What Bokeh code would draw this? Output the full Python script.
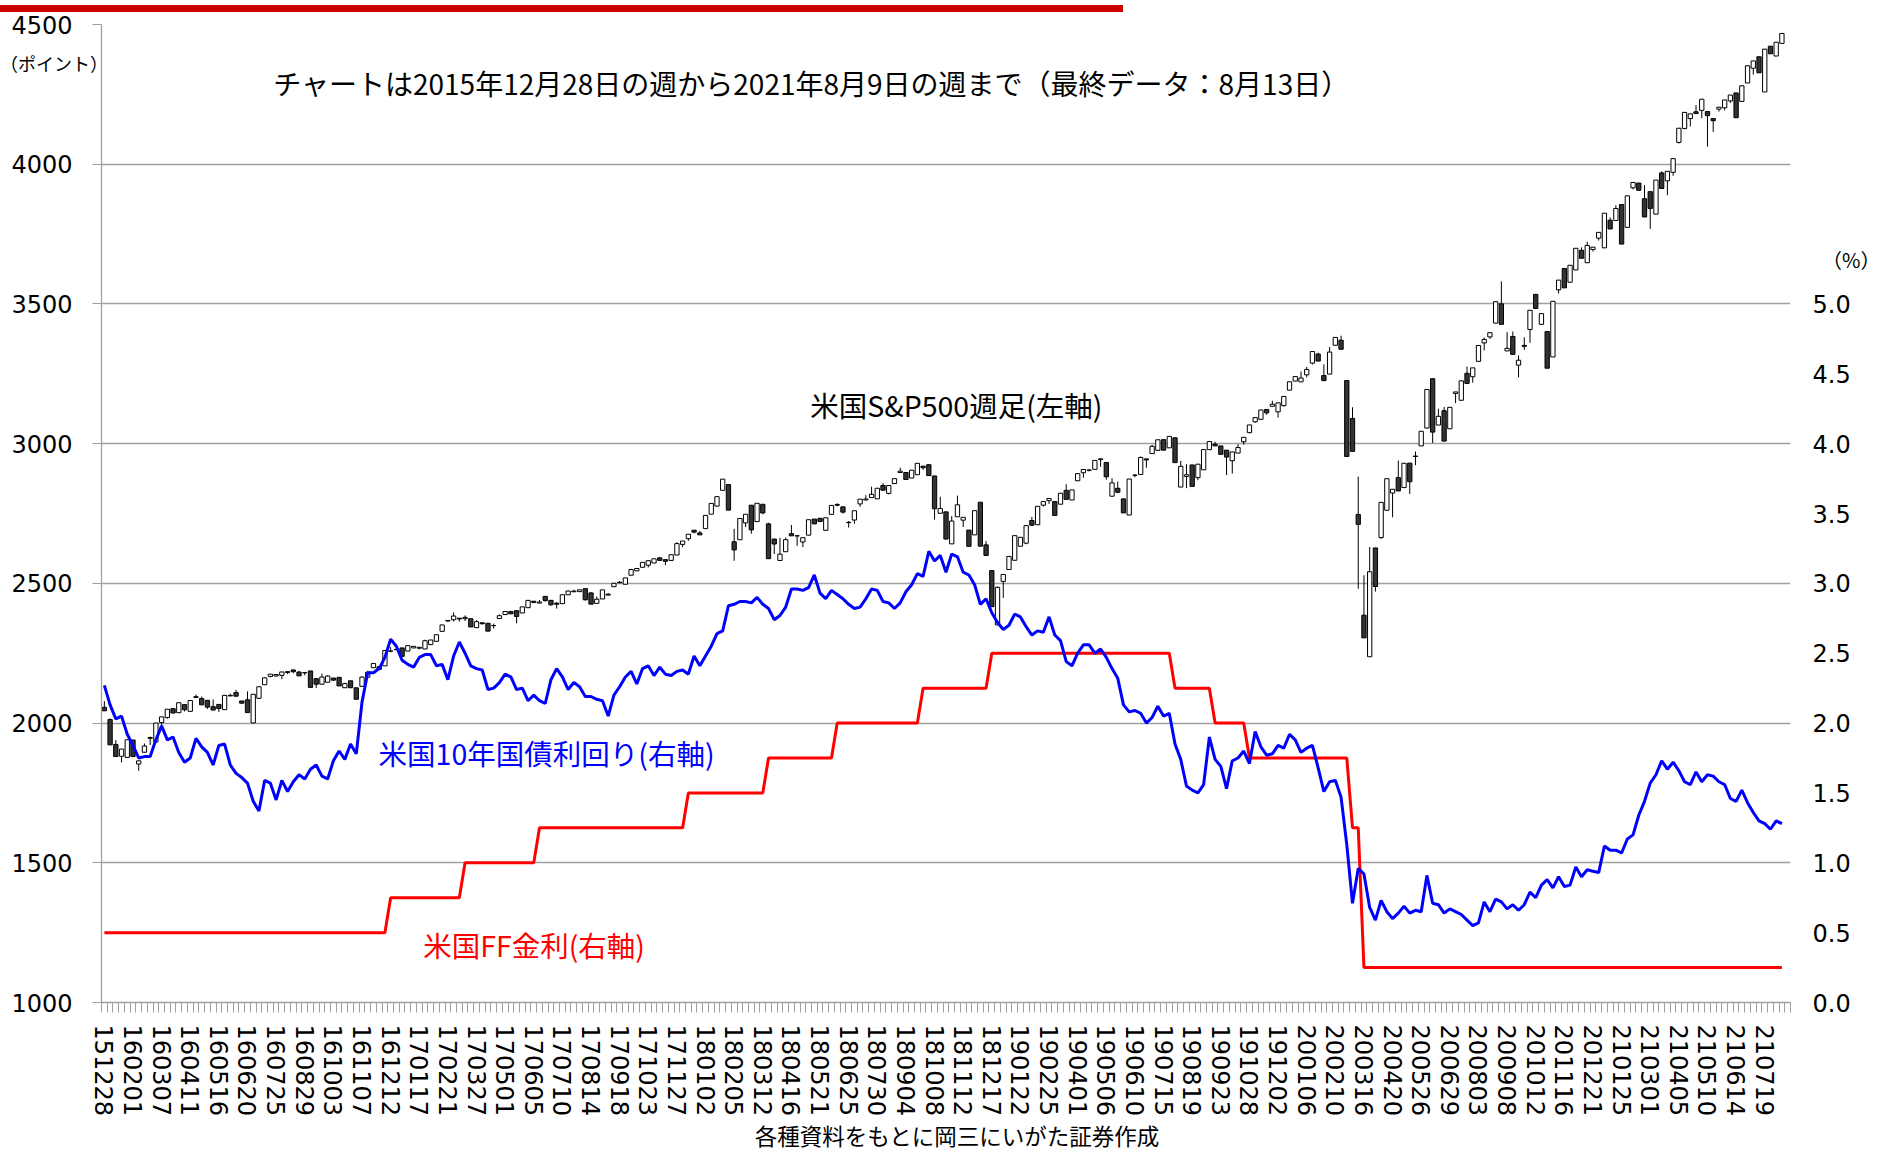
from bokeh.plotting import figure
from bokeh.models import (Range1d, LinearAxis, FixedTicker, NumeralTickFormatter,
                          Label, ColumnDataSource, Div)
from bokeh.layouts import column
from bokeh.embed import file_html
from bokeh.resources import INLINE

# ---------------- data ----------------
week_tick_labels = [
    "151228", "160201", "160307", "160411", "160516", "160620", "160725", "160829", "161003", "161107",
    "161212", "170117", "170221", "170327", "170501", "170605", "170710", "170814", "170918", "171023",
    "171127", "180102", "180205", "180312", "180416", "180521", "180625", "180730", "180904", "181008",
    "181112", "181217", "190122", "190225", "190401", "190506", "190610", "190715", "190819", "190923",
    "191028", "191202", "200106", "200210", "200316", "200420", "200526", "200629", "200803", "200908",
    "201012", "201116", "201221", "210125", "210301", "210405", "210510", "210614", "210719"]
tick_every = 5

# S&P500 weekly candles (O, H, L, C)
sp_open = [
    2056.5,
    # 2016
    2012.7, 1923.7, 1881.3, 1877.1, 1939.4, 1853.4, 1895.6, 1945.5, 1932.2, 2001.8, 2019.6, 2051.6, 2037.1,
    2066.1, 2042.0, 2094.3, 2087.8, 2081.4, 2058.7, 2066.7, 2048.0, 2097.0, 2109.4, 2079.1, 2083.3, 2000.5,
    2088.6, 2137.2, 2166.9, 2168.5, 2170.8, 2180.9, 2190.2, 2182.6, 2180.4, 2186.5, 2159.0, 2139.1, 2146.1,
    2161.2, 2163.7, 2126.5, 2151.3, 2126.2, 2131.5, 2164.2, 2198.2, 2201.7, 2204.7, 2257.0, 2262.5, 2268.9,
    # 2017
    2257.8, 2268.9, 2267.9, 2265.2, 2280.9, 2292.6, 2328.3, 2365.4, 2369.8, 2375.3, 2373.5, 2373.5, 2341.6,
    2358.8, 2357.2, 2349.0, 2374.2, 2388.3, 2399.4, 2402.3, 2394.0, 2412.9, 2436.1, 2429.4, 2453.5, 2439.1,
    2429.0, 2427.4, 2459.1, 2469.9, 2470.3, 2480.9, 2465.8, 2428.4, 2444.2, 2457.9, 2488.1, 2503.9, 2496.7,
    2529.1, 2544.7, 2557.6, 2565.0, 2572.8, 2591.1, 2584.8, 2582.1, 2601.4, 2639.4, 2660.0, 2690.2, 2680.5,
    # 2018
    2695.8, 2747.7, 2776.4, 2833.0, 2853.5, 2648.9, 2656.0, 2716.3, 2779.6, 2720.9, 2783.0, 2712.9, 2658.6,
    2581.9, 2613.2, 2677.8, 2670.3, 2648.1, 2672.6, 2730.1, 2733.0, 2689.9, 2746.9, 2782.0, 2773.8, 2717.1,
    2726.7, 2784.2, 2798.4, 2807.0, 2802.6, 2850.4, 2821.9, 2857.1, 2896.7, 2896.7, 2877.1, 2888.8, 2919.4,
    2924.6, 2884.4, 2750.8, 2755.9, 2641.3, 2738.3, 2726.2, 2690.7, 2673.5, 2790.4, 2637.7, 2545.9, 2351.1,
    2506.9,
    # 2019
    2549.7, 2582.6, 2632.9, 2643.9, 2724.9, 2709.8, 2779.8, 2796.1, 2792.8, 2783.3, 2832.9, 2798.4, 2867.2,
    2895.8, 2905.6, 2908.0, 2943.0, 2932.5, 2811.9, 2840.2, 2802.4, 2744.5, 2886.7, 2889.7, 2945.4, 2964.3,
    2976.0, 3014.3, 2985.0, 3021.0, 2844.7, 2882.7, 2923.7, 2878.4, 2906.3, 2978.4, 2998.0, 2991.8, 2976.7,
    2938.8, 2966.2, 3006.7, 3039.4, 3078.3, 3087.0, 3122.0, 3133.6, 3113.9, 3136.0, 3191.5, 3224.0, 3221.3,
    # 2020
    3246.3, 3288.1, 3320.8, 3243.6, 3248.9, 3352.1, 3370.3, 3225.9, 3090.2, 2746.6, 2386.1, 2237.4, 2626.7,
    2663.7, 2761.6, 2823.2, 2878.5, 2842.7, 2930.3, 2953.9, 2991.8, 3055.7, 3232.4, 3066.6, 3117.9, 3053.2,
    3179.7, 3155.2, 3251.8, 3239.4, 3294.6, 3360.5, 3382.0, 3431.3, 3500.3, 3331.8, 3383.5, 3281.1, 3351.6,
    3408.6, 3534.2, 3426.9, 3401.0, 3310.2, 3550.5, 3626.9, 3577.6, 3621.6, 3692.0, 3647.5, 3694.9, 3735.4,
    # 2021
    3700.7, 3799.6, 3798.9, 3855.4, 3773.9, 3915.6, 3932.6, 3876.5, 3901.8, 3821.4, 3968.9, 3940.6, 3971.1,
    4077.9, 4128.0, 4163.3, 4187.6, 4192.7, 4188.4, 4163.3, 4197.1, 4202.0, 4226.5, 4255.2, 4224.8, 4290.6,
    4343.5, 4384.6, 4258.5, 4422.3, 4387.2, 4432.4]
sp_high = [
    2078.4,
    2016.7, 1938.7, 1906.9, 1940.2, 1939.4, 1864.8, 1926.8, 1951.7, 2000.0, 2022.2, 2049.6, 2051.6, 2072.8,
    2066.7, 2082.8, 2102.4, 2095.2, 2081.4, 2084.4, 2066.7, 2099.1, 2105.3, 2119.1, 2079.1, 2113.3, 2103.0,
    2129.9, 2163.8, 2175.0, 2173.6, 2182.9, 2185.8, 2190.2, 2186.9, 2180.4, 2186.5, 2159.0, 2177.2, 2171.4,
    2161.2, 2163.7, 2144.3, 2151.3, 2126.2, 2167.5, 2187.1, 2213.4, 2204.7, 2259.5, 2271.7, 2270.8, 2268.9,
    2277.0, 2275.3, 2271.9, 2298.4, 2297.4, 2316.1, 2351.2, 2367.3, 2396.0, 2375.3, 2385.3, 2373.5, 2368.1,
    2360.2, 2357.2, 2355.8, 2388.8, 2399.3, 2399.6, 2402.3, 2415.8, 2439.1, 2436.1, 2440.4, 2453.5, 2440.7,
    2432.5, 2459.3, 2473.8, 2477.8, 2477.6, 2480.9, 2468.1, 2452.5, 2476.6, 2465.5, 2500.2, 2508.2, 2519.4,
    2552.1, 2555.2, 2575.2, 2581.1, 2587.8, 2594.4, 2585.6, 2602.4, 2647.6, 2651.5, 2675.8, 2690.2, 2687.5,
    2743.2, 2786.2, 2810.3, 2872.9, 2853.5, 2695.1, 2732.2, 2747.3, 2779.6, 2786.6, 2783.0, 2716.9, 2658.6,
    2662.8, 2664.0, 2708.6, 2670.3, 2663.4, 2727.7, 2730.1, 2733.3, 2734.6, 2779.0, 2786.9, 2773.8, 2723.1,
    2759.8, 2801.3, 2815.6, 2846.1, 2840.4, 2858.5, 2850.1, 2874.7, 2914.0, 2896.7, 2905.0, 2930.8, 2919.4,
    2925.5, 2884.4, 2809.9, 2755.9, 2740.4, 2813.9, 2736.3, 2690.7, 2760.2, 2790.4, 2651.1, 2546.2, 2488.8,
    2531.9,
    2596.6, 2670.7, 2664.8, 2706.5, 2737.7, 2775.6, 2792.7, 2803.7, 2792.8, 2822.5, 2854.9, 2834.4, 2892.7,
    2907.4, 2907.1, 2939.9, 2945.8, 2932.5, 2876.3, 2864.4, 2802.4, 2873.3, 2891.6, 2954.2, 2945.4, 2995.8,
    3013.8, 3014.3, 3025.9, 3021.0, 2938.1, 2926.3, 2924.4, 2926.5, 2978.7, 3009.6, 3006.8, 2991.8, 2976.7,
    2970.3, 2998.0, 3022.6, 3066.9, 3093.1, 3120.5, 3122.0, 3153.6, 3145.9, 3168.8, 3221.2, 3240.0, 3257.9,
    3274.7, 3329.6, 3325.5, 3283.7, 3345.8, 3380.2, 3386.2, 3225.9, 3130.1, 2882.2, 2529.2, 2630.1, 2626.7,
    2789.8, 2874.6, 2836.7, 2939.5, 2929.8, 2930.3, 2971.6, 3044.3, 3193.9, 3232.4, 3124.7, 3131.3, 3130.0,
    3185.0, 3226.6, 3276.0, 3271.1, 3351.3, 3380.4, 3397.2, 3508.0, 3580.8, 3399.0, 3401.2, 3315.6, 3380.8,
    3477.1, 3534.2, 3465.4, 3401.0, 3510.5, 3585.2, 3626.9, 3638.4, 3699.1, 3702.3, 3722.5, 3703.1, 3756.1,
    3824.7, 3809.8, 3853.1, 3855.4, 3886.8, 3934.8, 3932.6, 3925.4, 3901.8, 3943.3, 3974.1, 3974.5, 4019.9,
    4128.8, 4185.5, 4180.2, 4211.5, 4232.6, 4188.4, 4163.3, 4204.1, 4229.9, 4247.4, 4255.2, 4280.7, 4352.3,
    4369.6, 4384.6, 4411.8, 4422.3, 4436.5, 4468.0]
sp_low = [
    2043.9,
    1922.0, 1880.3, 1859.3, 1877.1, 1880.1, 1829.1, 1895.6, 1921.3, 1932.2, 1979.3, 2015.9, 2035.9, 2037.1,
    2041.9, 2042.0, 2091.5, 2065.3, 2050.6, 2046.6, 2040.0, 2048.0, 2097.0, 2096.1, 2071.2, 2037.4, 2000.5,
    2088.6, 2137.2, 2163.8, 2166.6, 2157.0, 2175.5, 2178.2, 2169.0, 2170.9, 2127.8, 2125.8, 2139.1, 2146.1,
    2150.5, 2132.6, 2126.5, 2126.4, 2085.2, 2131.5, 2164.2, 2198.2, 2191.1, 2204.7, 2253.3, 2261.0, 2238.8,
    2257.8, 2268.9, 2263.7, 2265.2, 2278.9, 2292.6, 2328.3, 2362.8, 2363.6, 2363.0, 2365.5, 2344.0, 2341.6,
    2353.0, 2329.0, 2338.2, 2374.2, 2388.1, 2390.9, 2357.0, 2394.0, 2411.8, 2429.3, 2429.4, 2434.5, 2419.4,
    2409.8, 2425.5, 2459.1, 2469.9, 2470.3, 2438.2, 2425.6, 2428.4, 2444.2, 2457.9, 2488.1, 2500.6, 2496.7,
    2529.1, 2544.7, 2557.6, 2557.2, 2572.8, 2582.3, 2564.6, 2582.1, 2601.4, 2629.3, 2652.0, 2679.3, 2673.6,
    2695.8, 2747.7, 2776.4, 2833.0, 2762.1, 2581.0, 2656.0, 2701.3, 2677.7, 2720.9, 2747.3, 2588.3, 2605.0,
    2581.9, 2613.2, 2670.1, 2634.6, 2629.7, 2671.9, 2711.5, 2721.3, 2689.9, 2746.9, 2775.6, 2749.8, 2699.6,
    2713.2, 2774.0, 2798.4, 2807.0, 2802.6, 2833.3, 2818.4, 2857.0, 2896.7, 2871.7, 2877.1, 2888.8, 2906.0,
    2885.6, 2728.4, 2750.8, 2656.1, 2641.3, 2738.3, 2701.6, 2632.6, 2673.5, 2633.1, 2600.0, 2416.6, 2351.1,
    2447.9,
    2549.7, 2582.6, 2632.9, 2640.0, 2706.1, 2709.8, 2774.9, 2784.5, 2743.1, 2783.3, 2800.7, 2798.4, 2867.2,
    2878.2, 2900.5, 2908.0, 2917.5, 2870.7, 2811.9, 2822.2, 2752.1, 2744.5, 2879.8, 2889.7, 2913.8, 2964.3,
    2976.0, 2976.6, 2985.0, 2932.1, 2844.7, 2840.6, 2847.1, 2869.2, 2906.3, 2978.4, 2992.1, 2961.8, 2887.6,
    2893.1, 2966.2, 2996.0, 3036.9, 3074.6, 3087.0, 3103.5, 3133.6, 3093.2, 3132.5, 3191.1, 3223.4, 3221.3,
    3237.2, 3283.2, 3295.5, 3225.5, 3248.9, 3352.1, 3337.8, 2954.2, 2972.4, 2480.6, 2304.9, 2237.4, 2470.5,
    2659.4, 2761.6, 2736.6, 2830.7, 2842.7, 2820.0, 2922.9, 2991.8, 3055.7, 3002.1, 3066.6, 3009.1, 3053.2,
    3145.3, 3155.2, 3215.6, 3218.4, 3294.6, 3333.7, 3374.9, 3431.3, 3427.0, 3331.8, 3319.5, 3236.9, 3335.5,
    3361.0, 3483.3, 3426.9, 3270.0, 3310.2, 3537.0, 3557.5, 3577.6, 3621.6, 3663.5, 3647.5, 3687.3, 3727.0,
    3700.7, 3768.3, 3798.9, 3714.2, 3773.9, 3909.9, 3906.7, 3811.2, 3768.5, 3821.4, 3913.1, 3889.1, 3958.6,
    4073.9, 4124.7, 4134.9, 4181.2, 4164.7, 4063.0, 4115.7, 4188.1, 4192.9, 4219.6, 4166.5, 4224.8, 4290.6,
    4320.8, 4327.2, 4258.5, 4395.3, 4387.2, 4432.4]
sp_close = [
    2043.9,
    1922.0, 1880.3, 1906.9, 1940.2, 1880.1, 1864.8, 1917.8, 1948.1, 2000.0, 2022.2, 2049.6, 2035.9, 2072.8,
    2047.6, 2080.7, 2091.6, 2065.3, 2057.1, 2046.6, 2052.3, 2099.1, 2099.1, 2096.1, 2071.2, 2037.4, 2103.0,
    2129.9, 2161.7, 2175.0, 2173.6, 2182.9, 2184.1, 2183.9, 2169.0, 2180.0, 2127.8, 2139.2, 2164.7, 2168.3,
    2153.7, 2133.0, 2141.2, 2126.4, 2085.2, 2164.5, 2181.9, 2213.4, 2192.0, 2259.5, 2258.1, 2263.8, 2238.8,
    2277.0, 2274.6, 2271.3, 2294.7, 2297.4, 2316.1, 2351.2, 2367.3, 2383.1, 2372.6, 2378.3, 2344.0, 2362.7,
    2355.5, 2329.0, 2348.7, 2384.2, 2399.3, 2390.9, 2381.7, 2415.8, 2439.1, 2431.8, 2433.2, 2438.3, 2423.4,
    2425.2, 2459.3, 2472.5, 2472.1, 2476.8, 2441.3, 2425.6, 2443.1, 2476.6, 2461.4, 2500.2, 2502.2, 2519.4,
    2549.3, 2553.2, 2575.2, 2581.1, 2587.8, 2582.3, 2578.9, 2602.4, 2642.2, 2651.5, 2675.8, 2683.3, 2673.6,
    2743.2, 2786.2, 2810.3, 2872.9, 2762.1, 2619.6, 2732.2, 2747.3, 2691.3, 2786.6, 2752.0, 2588.3, 2640.9,
    2604.5, 2656.3, 2670.1, 2669.9, 2663.4, 2727.7, 2713.0, 2721.3, 2734.6, 2779.0, 2779.7, 2754.9, 2718.4,
    2759.8, 2801.3, 2801.8, 2818.8, 2840.4, 2833.3, 2850.1, 2874.7, 2901.5, 2871.7, 2905.0, 2929.7, 2914.0,
    2885.6, 2767.1, 2767.8, 2658.7, 2723.1, 2781.0, 2736.3, 2632.6, 2760.2, 2633.1, 2600.0, 2416.6, 2485.7,
    2531.9,
    2596.3, 2670.7, 2664.8, 2706.5, 2707.9, 2775.6, 2792.7, 2803.7, 2743.1, 2822.5, 2800.7, 2834.4, 2892.7,
    2907.4, 2905.0, 2939.9, 2945.6, 2881.4, 2859.5, 2826.1, 2752.1, 2873.3, 2887.0, 2950.5, 2941.8, 2990.4,
    3013.8, 2976.6, 3025.9, 2932.1, 2918.7, 2888.7, 2847.1, 2926.5, 2978.7, 3007.4, 2992.1, 2961.8, 2952.0,
    2970.3, 2986.2, 3022.6, 3066.9, 3093.1, 3120.5, 3110.3, 3141.0, 3145.9, 3168.8, 3221.2, 3240.0, 3234.9,
    3265.4, 3329.6, 3295.5, 3225.5, 3327.7, 3380.2, 3337.8, 2954.2, 2972.4, 2711.0, 2304.9, 2541.5, 2488.7,
    2789.8, 2874.6, 2836.7, 2830.7, 2929.8, 2863.7, 2955.5, 3044.3, 3193.9, 3041.3, 3097.7, 3009.1, 3130.0,
    3185.0, 3224.7, 3215.6, 3271.1, 3351.3, 3372.9, 3397.2, 3508.0, 3427.0, 3341.0, 3319.5, 3298.5, 3348.4,
    3477.1, 3483.8, 3465.4, 3270.0, 3509.4, 3585.2, 3557.5, 3638.4, 3699.1, 3663.5, 3709.4, 3703.1, 3756.1,
    3824.7, 3768.3, 3841.5, 3714.2, 3886.8, 3934.8, 3906.7, 3811.2, 3841.9, 3943.3, 3913.1, 3974.5, 4019.9,
    4128.8, 4185.5, 4180.2, 4181.2, 4232.6, 4173.9, 4155.9, 4204.1, 4229.9, 4247.4, 4166.5, 4280.7, 4352.3,
    4369.6, 4327.2, 4411.8, 4395.3, 4436.5, 4468.0]

# US 10-year Treasury yield, weekly close (%)
ust10y = [
    2.27,
    2.13, 2.03, 2.05, 1.92, 1.84, 1.75, 1.76, 1.76, 1.88, 1.98, 1.88, 1.90, 1.79,
    1.72, 1.75, 1.89, 1.83, 1.79, 1.70, 1.84, 1.85, 1.70, 1.64, 1.61, 1.57, 1.44,
    1.37, 1.59, 1.57, 1.45, 1.59, 1.51, 1.58, 1.63, 1.60, 1.67, 1.70, 1.62, 1.60,
    1.73, 1.80, 1.74, 1.85, 1.78, 2.15, 2.36, 2.36, 2.39, 2.47, 2.60, 2.55, 2.45,
    2.42, 2.40, 2.47, 2.49, 2.49, 2.41, 2.42, 2.31, 2.48, 2.58, 2.50, 2.41, 2.39,
    2.38, 2.24, 2.25, 2.29, 2.35, 2.33, 2.24, 2.25, 2.16, 2.20, 2.16, 2.14, 2.31,
    2.39, 2.33, 2.24, 2.29, 2.26, 2.19, 2.19, 2.17, 2.16, 2.05, 2.20, 2.26, 2.33,
    2.37, 2.28, 2.39, 2.41, 2.34, 2.40, 2.35, 2.34, 2.37, 2.38, 2.35, 2.48, 2.41,
    2.48, 2.55, 2.64, 2.66, 2.84, 2.85, 2.87, 2.87, 2.86, 2.90, 2.85, 2.82, 2.74,
    2.77, 2.83, 2.96, 2.96, 2.95, 2.97, 3.06, 2.93, 2.89, 2.95, 2.92, 2.89, 2.85,
    2.82, 2.83, 2.89, 2.96, 2.95, 2.87, 2.86, 2.82, 2.86, 2.94, 2.99, 3.07, 3.05,
    3.23, 3.16, 3.20, 3.08, 3.21, 3.19, 3.08, 3.06, 2.99, 2.85, 2.89, 2.79, 2.72,
    2.67,
    2.70, 2.78, 2.76, 2.69, 2.63, 2.66, 2.65, 2.76, 2.63, 2.59, 2.44, 2.41, 2.50,
    2.56, 2.56, 2.50, 2.53, 2.47, 2.39, 2.32, 2.13, 2.08, 2.09, 2.07, 2.00, 2.04,
    2.12, 2.05, 2.07, 1.85, 1.74, 1.55, 1.52, 1.50, 1.56, 1.90, 1.74, 1.69, 1.53,
    1.73, 1.75, 1.80, 1.71, 1.94, 1.83, 1.77, 1.78, 1.84, 1.82, 1.92, 1.88, 1.79,
    1.82, 1.84, 1.68, 1.51, 1.58, 1.59, 1.47, 1.13, 0.71, 0.96, 0.92, 0.68, 0.59,
    0.73, 0.65, 0.60, 0.64, 0.69, 0.64, 0.66, 0.65, 0.91, 0.71, 0.70, 0.64, 0.67,
    0.65, 0.63, 0.59, 0.55, 0.57, 0.72, 0.65, 0.74, 0.72, 0.67, 0.70, 0.66, 0.70,
    0.79, 0.75, 0.84, 0.88, 0.82, 0.90, 0.83, 0.84, 0.97, 0.90, 0.95, 0.94, 0.93,
    1.12, 1.09, 1.09, 1.07, 1.17, 1.20, 1.34, 1.44, 1.57, 1.63, 1.73, 1.67, 1.72,
    1.66, 1.58, 1.56, 1.65, 1.58, 1.63, 1.62, 1.58, 1.56, 1.46, 1.44, 1.52, 1.43,
    1.36, 1.30, 1.28, 1.24, 1.30, 1.28]

# US Fed Funds target (upper bound, %): level and number of weeks at that level
ff_levels = [0.50, 0.75, 1.00, 1.25, 1.50, 1.75, 2.00, 2.25, 2.50, 2.25, 2.00, 1.75, 1.25, 0.25]
ff_weeks = [50, 13, 13, 26, 14, 12, 15, 12, 32, 7, 6, 18, 2, 74]

left_ticks = [1000, 1500, 2000, 2500, 3000, 3500, 4000, 4500]
right_ticks = [0.0, 0.5, 1.0, 1.5, 2.0, 2.5, 3.0, 3.5, 4.0, 4.5, 5.0]

# ---------------- build ----------------
n = len(sp_close)
xs = list(range(n))
ff_rate = []
for lvl, cnt in zip(ff_levels, ff_weeks):
    ff_rate += [lvl] * cnt

up = [i for i in xs if sp_close[i] >= sp_open[i]]
dn = [i for i in xs if sp_close[i] < sp_open[i]]
src_all = ColumnDataSource(dict(x=xs, high=sp_high, low=sp_low))
src_up = ColumnDataSource(dict(x=up, top=[sp_close[i] for i in up], bottom=[sp_open[i] for i in up]))
src_dn = ColumnDataSource(dict(x=dn, top=[sp_open[i] for i in dn], bottom=[sp_close[i] for i in dn]))

BAR_H = 7
W, H = 1876, 1144
ML, MT = 101, 17
MR = W - 1790
MB = H - MT - 978
p = figure(width=W, height=H, output_backend="svg", toolbar_location=None,
           x_range=Range1d(-0.5, n + 0.5), y_range=Range1d(1000, 4500),
           min_border_left=ML, min_border_right=MR, min_border_top=MT, min_border_bottom=MB,
           outline_line_color=None, background_fill_color="white",
           border_fill_color="white", border_fill_alpha=0.0)
p.extra_y_ranges = {"pct": Range1d(0, 7)}

GRAY = "#A0A0A0"
JP = "Noto Sans CJK JP"
# left axis
la = p.yaxis[0]
la.ticker = FixedTicker(ticks=left_ticks)
la.axis_line_color = GRAY
la.axis_line_width = 1.3
la.major_tick_line_color = GRAY
la.major_tick_out = 9
la.major_tick_in = 0
la.minor_tick_line_color = None
la.major_label_standoff = 20
la.major_label_text_font = "DejaVu Sans"
la.major_label_text_font_size = "24px"
la.major_label_text_color = "black"

# bottom axis
ba = p.xaxis[0]
ba.ticker = FixedTicker(ticks=list(range(0, n, tick_every)),
                        minor_ticks=[i - 0.5 for i in range(n + 2)])
ba.major_label_overrides = {k * tick_every: lab for k, lab in enumerate(week_tick_labels)}
ba.major_label_orientation = "vertical"
ba.major_label_text_font = "DejaVu Sans"
ba.major_label_text_font_size = "24px"
ba.major_label_text_color = "black"
ba.axis_line_color = GRAY
ba.axis_line_width = 1.3
ba.major_tick_line_color = None
ba.major_tick_out = 10
ba.major_tick_in = 0
ba.minor_tick_line_color = GRAY
ba.minor_tick_out = 10
ba.minor_tick_in = 0
ba.major_label_standoff = 12

# right axis
ra = LinearAxis(y_range_name="pct", ticker=FixedTicker(ticks=right_ticks),
                formatter=NumeralTickFormatter(format="0.0"))
ra.axis_line_color = None
ra.major_tick_line_color = None
ra.minor_tick_line_color = None
ra.major_tick_out = 0
ra.major_tick_in = 0
ra.major_label_standoff = 22
ra.major_label_text_font = "DejaVu Sans"
ra.major_label_text_font_size = "24px"
ra.major_label_text_color = "black"
p.add_layout(ra, "right")

p.xgrid.visible = False
p.ygrid.ticker = FixedTicker(ticks=left_ticks)
p.ygrid.grid_line_color = GRAY
p.ygrid.grid_line_width = 1.3

# candles
p.segment(x0="x", y0="high", x1="x", y1="low", source=src_all, line_color="black", line_width=1)
p.vbar(x="x", width=0.75, top="top", bottom="bottom", source=src_up,
       fill_color="white", line_color="black", line_width=1)
p.vbar(x="x", width=0.75, top="top", bottom="bottom", source=src_dn,
       fill_color="#333333", line_color="black", line_width=1)

# rates
p.line(xs, ff_rate, y_range_name="pct", line_color="#FF0000", line_width=3)
p.line(xs, ust10y, y_range_name="pct", line_color="#0000FF", line_width=3)

# in-plot labels (data units)
p.add_layout(Label(x=29.5, y=4289, text="チャートは2015年12月28日の週から2021年8月9日の週まで（最終データ：8月13日）",
                   text_font=JP, text_font_size="28px", text_baseline="middle", text_color="black"))
p.add_layout(Label(x=123.3, y=3140, text="米国S&P500週足(左軸)",
                   text_font=JP, text_font_size="28.5px", text_baseline="middle", text_color="black"))
p.add_layout(Label(x=47.9, y=1895, text="米国10年国債利回り(右軸)",
                   text_font=JP, text_font_size="28.5px", text_baseline="middle", text_color="#0000FF"))
p.add_layout(Label(x=55.7, y=1208, text="米国FF金利(右軸)",
                   text_font=JP, text_font_size="28.5px", text_baseline="middle", text_color="#FF0000"))

# top bar, unit captions and source note outside the plot frame
txt = "position:absolute;white-space:nowrap;line-height:1;color:#000;font-family:'Noto Sans CJK JP';"
top_html = (
    '<div style="position:relative;width:1123px;height:%dpx;background:#CC0000;">' % BAR_H
    + '<div style="%sleft:0px;top:49px;font-size:18px;z-index:5;">（ポイント）</div>' % txt
    + '<div style="%sleft:1822px;top:245px;font-size:20px;z-index:5;">（%%）</div>' % txt
    + '<div style="%sleft:557px;width:800px;text-align:center;top:1119px;font-size:22.5px;z-index:5;">'
      '各種資料をもとに岡三にいがた証券作成</div>' % txt
    + '</div>')
top_div = Div(text=top_html, width=1123, height=BAR_H, margin=(0, 0, 0, 0),
              styles={"overflow": "visible", "z-index": "5"})

layout = column(top_div, p, spacing=0)
open("out.html", "w").write(file_html(layout, INLINE))
